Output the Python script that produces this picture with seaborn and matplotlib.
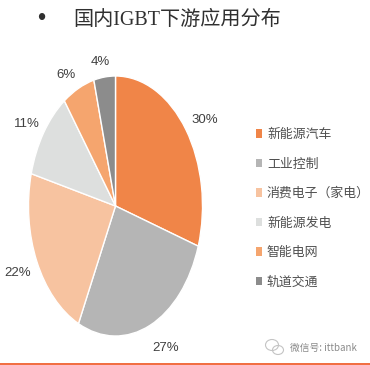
import matplotlib
matplotlib.use("Agg")
import matplotlib.pyplot as plt
from matplotlib.lines import Line2D
from matplotlib.patches import Ellipse
import seaborn as sns

categories = ["新能源汽车", "工业控制", "消费电子（家电）", "新能源发电", "智能电网", "轨道交通"]
values = [30, 27, 22, 11, 6, 4]
colors = ["#F08548", "#B5B5B5", "#F7C3A0", "#DDDFDE", "#F5A56E", "#8C8C8C"]
title = "国内IGBT下游应用分布"

sns.set_theme(style="white")
plt.rcParams["font.family"] = ["Noto Sans CJK SC", "DejaVu Sans"]
sns.set_palette(colors)

W, H = 370, 365
fig = plt.figure(figsize=(W / 100, H / 100), dpi=100, facecolor="white")
cx, cy, rx, ry = 115.5, 206, 87, 130
lim = 1.3
ax = fig.add_axes([(cx - rx * lim) / W, 1 - (cy + ry * lim) / H, 2 * rx * lim / W, 2 * ry * lim / H])
wedges, _, pct = ax.pie(
    values, colors=sns.color_palette(), startangle=90, counterclock=False,
    autopct="%d%%", pctdistance=1.18, radius=1.0,
    wedgeprops=dict(edgecolor="white", linewidth=1.0),
    textprops=dict(color="#404040", fontsize=9.5, family=["Liberation Sans", "DejaVu Sans"]),
)
ax.set_xlim(-lim, lim)
ax.set_ylim(-lim, lim)
ax.set_aspect("auto")

# small nudges of the percentage labels, in pixels (right, down)
nudges = [(6, 4), (9, 1), (-5, 2), (-4, 4), (-6, 8), (-2, 8)]
for t, (dx, dy) in zip(pct, nudges):
    x, y = t.get_position()
    t.set_position((x + dx / rx, y - dy / ry))
    t.set_clip_on(False)

leg = fig.legend(
    wedges, categories, loc="upper left", bbox_to_anchor=(256 / W, 1 - 128 / H),
    bbox_transform=fig.transFigure, frameon=False, fontsize=9.3, labelcolor="#505050",
    handlelength=0.45, handleheight=0.65, handletextpad=0.4, labelspacing=1.28,
    borderpad=0, borderaxespad=0,
)
for h in leg.legend_handles:
    h.set_edgecolor("none")

fig.text(41 / W, 1 - 19 / H, "•", fontsize=17, color="#303030", ha="center", va="center",
         family=["Liberation Sans", "DejaVu Sans"])
fig.text(73 / W, 1 - 20 / H, title, fontsize=14.5, color="#303030", ha="left", va="center",
         family=["Liberation Serif", "Noto Sans CJK SC"])
fig.text(323 / W, 1 - 348 / H, "微信号: ittbank", fontsize=7, color="#8a8a8a", ha="center", va="center")
for x, y, w, h in [(272, 345, 13, 11), (278, 350, 11, 9)]:
    fig.add_artist(Ellipse((x / W, 1 - y / H), w / W, h / H, transform=fig.transFigure,
                           fill=False, edgecolor="#c4c4c4", lw=0.8))
fig.add_artist(Line2D([0, 1], [1 - 363.5 / H] * 2, color="#F0602F", lw=1.3, transform=fig.transFigure))

fig.savefig("out.png", dpi=100)
